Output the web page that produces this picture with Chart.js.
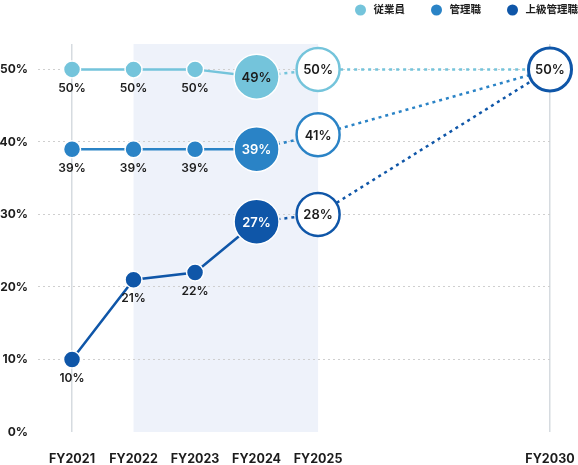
<!DOCTYPE html>
<html lang="ja">
<head>
<meta charset="utf-8">
<script src="https://cdn.jsdelivr.net/npm/chart.js@4/dist/chart.umd.min.js"></script>
<style>
  html, body { margin: 0; padding: 0; background: #fff; }
  #wrap { position: relative; width: 578px; height: 465px; }
</style>
</head>
<body>
<div id="wrap"><canvas id="ratioChart"></canvas></div>
<script>
// 年度（FY2025 と FY2030 の間は詰めて表示）
const years = [2021, 2022, 2023, 2024, 2025, 2030];
const yearLabels = ['FY2021', 'FY2022', 'FY2023', 'FY2024', 'FY2025', 'FY2030'];
const seriesNames = ['従業員', '管理職', '上級管理職'];

// 図上の位置から読んだ値（%）
const employeeValues = [50, 50, 50, 49, 50, 50];
const managerValues = [39, 39, 39, 39, 41, 50];
const seniorValues = [10, 21, 22, 29, 30, 50];

// 図中に書かれたラベル
const employeeLabels = ['50%', '50%', '50%', '49%', '50%', null];
const managerLabels = ['39%', '39%', '39%', '39%', '41%', null];
const seniorLabels = ['10%', '21%', '22%', '27%', '28%', '50%'];

const yTicks = [0, 10, 20, 30, 40, 50];

const FONT = "Inter, 'Noto Sans CJK JP', 'Noto Sans', sans-serif";
const TEXT = '#1c1c1c';
const colors = ['#74c4db', '#2a83c6', '#0f56a8'];

// 2025年以降は間隔を詰める
const BREAK_YEAR = 2025;
const SQUEEZE = 0.754;
function xPos(year) {
    const i = years.indexOf(Math.min(year, BREAK_YEAR));
    return year <= BREAK_YEAR ? i : i + (year - BREAK_YEAR) * SQUEEZE;
}

function makeDataset(name, values, labels, color, order, showLast) {
    const last = showLast ? 21.5 : 0;
    return {
        label: name,
        data: values.map((v, i) => ({ x: xPos(years[i]), y: v })),
        pointLabels: labels,
        borderColor: color,
        backgroundColor: color,
        borderWidth: 2.5,
        tension: 0,
        clip: false,
        order: order,
        pointRadius: [8.5, 8.5, 8.5, 22.5, 21.5, last],
        pointHoverRadius: [8.5, 8.5, 8.5, 22.5, 21.5, last],
        pointBackgroundColor: [color, color, color, color, '#fff', '#fff'],
        pointBorderColor: ['#fff', '#fff', '#fff', '#fff', color, color],
        pointBorderWidth: [1.5, 1.5, 1.5, 1.5, 2.5, 3],
        segment: {
            borderDash: ctx => ctx.p0DataIndex >= 3 ? [3, 4] : undefined
        }
    };
}

const bandPlugin = {
    id: 'band',
    beforeDraw(chart) {
        const { ctx, chartArea, scales } = chart;
        const x0 = scales.x.getPixelForValue(xPos(2022));
        const x1 = scales.x.getPixelForValue(xPos(2025));
        ctx.save();
        ctx.fillStyle = '#eef2fa';
        ctx.fillRect(x0, chartArea.top, x1 - x0, chartArea.bottom - chartArea.top);
        ctx.restore();
    }
};

const labelPlugin = {
    id: 'pointLabels',
    afterDatasetsDraw(chart) {
        const { ctx } = chart;
        ctx.save();
        ctx.textAlign = 'center';
        ctx.textBaseline = 'middle';
        chart.data.datasets.forEach((ds, di) => {
            const meta = chart.getDatasetMeta(di);
            meta.data.forEach((pt, i) => {
                const text = ds.pointLabels[i];
                if (!text) return;
                if (i < 3) {
                    ctx.font = `600 12px ${FONT}`;
                    ctx.fillStyle = TEXT;
                    ctx.fillText(text, pt.x, pt.y + 19);
                } else {
                    ctx.font = `600 13px ${FONT}`;
                    ctx.fillStyle = (i === 3 && di > 0) ? '#fff' : TEXT;
                    ctx.fillText(text, pt.x, pt.y + 1);
                }
            });
        });
        ctx.restore();
    }
};

const legendPlugin = {
    id: 'topLegend',
    afterDraw(chart) {
        const { ctx } = chart;
        ctx.save();
        ctx.font = `700 10.5px ${FONT}`;
        ctx.textBaseline = 'middle';
        let right = chart.width;
        const y = 10;
        for (let i = seriesNames.length - 1; i >= 0; i--) {
            const w = ctx.measureText(seriesNames[i]).width;
            const textX = right - w;
            ctx.fillStyle = TEXT;
            ctx.textAlign = 'left';
            ctx.fillText(seriesNames[i], textX, y);
            ctx.beginPath();
            ctx.arc(textX - 13, y, 5.5, 0, Math.PI * 2);
            ctx.fillStyle = colors[i];
            ctx.fill();
            right = textX - 13 - 5.5 - 26;
        }
        ctx.restore();
    }
};

new Chart(document.getElementById('ratioChart'), {
    type: 'line',
    data: {
        datasets: [
            makeDataset(seriesNames[0], employeeValues, employeeLabels, colors[0], 2, false),
            makeDataset(seriesNames[1], managerValues, managerLabels, colors[1], 1, false),
            makeDataset(seriesNames[2], seniorValues, seniorLabels, colors[2], 0, true)
        ]
    },
    options: {
        responsive: true,
        maintainAspectRatio: false,
        animation: false,
        events: [],
        layout: {
            padding: { top: 44, right: 28, left: 0, bottom: 0 }
        },
        scales: {
            x: {
                type: 'linear',
                min: -0.553,
                max: xPos(2030),
                afterBuildTicks: scale => {
                    scale.ticks = years.map(y => ({ value: xPos(y) }));
                },
                afterFit: scale => {
                    scale.height = 33;
                    scale.paddingLeft = 0;
                    scale.paddingRight = 0;
                },
                border: { display: false },
                grid: {
                    drawTicks: false,
                    lineWidth: 1.5,
                    color: ctx => (ctx.index === 0 || ctx.index === years.length - 1) ? '#d6dbe0' : 'rgba(0,0,0,0)'
                },
                ticks: {
                    padding: 20,
                    maxRotation: 0,
                    color: TEXT,
                    font: { family: FONT, size: 12.5, weight: '700' },
                    callback: (v, i) => yearLabels[i]
                }
            },
            y: {
                min: 0,
                max: 53.5,
                afterBuildTicks: scale => {
                    scale.ticks = yTicks.map(v => ({ value: v }));
                },
                afterFit: scale => {
                    scale.width = 38;
                    scale.paddingTop = 0;
                    scale.paddingBottom = 0;
                },
                border: { display: false, dash: [2, 3] },
                grid: {
                    drawTicks: false,
                    lineWidth: 1,
                    color: ctx => ctx.tick && ctx.tick.value === 0 ? 'rgba(0,0,0,0)' : '#cfcfcf'
                },
                ticks: {
                    padding: 10,
                    color: TEXT,
                    font: { family: FONT, size: 12, weight: '700' },
                    callback: v => v + '%'
                }
            }
        },
        plugins: {
            legend: { display: false },
            tooltip: { enabled: false }
        }
    },
    plugins: [bandPlugin, labelPlugin, legendPlugin]
});
</script>
</body>
</html>
